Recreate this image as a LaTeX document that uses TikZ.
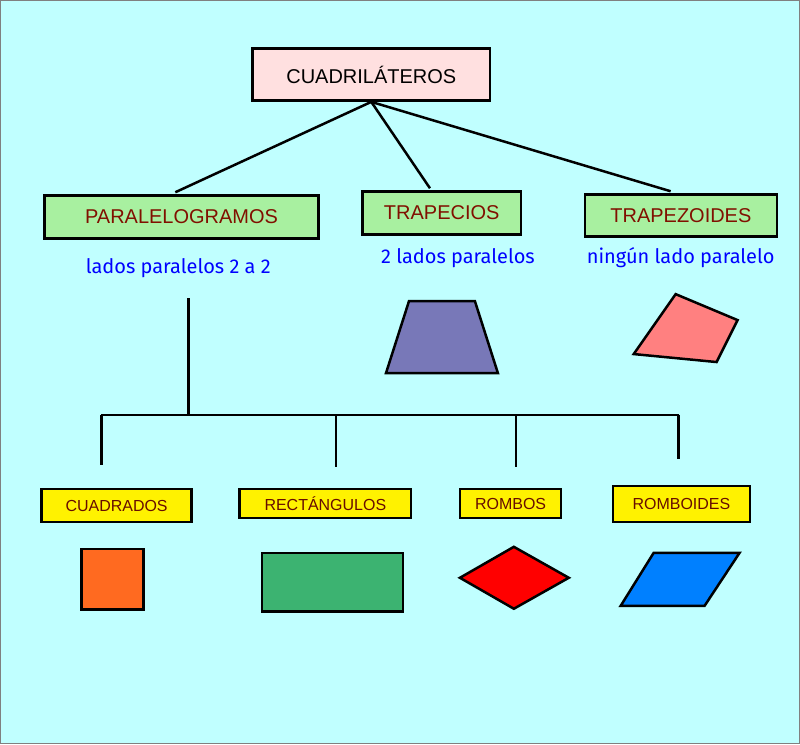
\documentclass[tikz,border=0pt]{standalone}
\usepackage{fontspec}
\setmainfont{Liberation Sans}
\newfontfamily\bluefont{Fira Sans}
\definecolor{fondo}{HTML}{C0FFFF}
\definecolor{rosa}{HTML}{FFE0E0}
\definecolor{verde}{HTML}{A8F0A0}
\definecolor{granate}{HTML}{801000}
\begin{document}
\begin{tikzpicture}[x=1pt,y=-1pt,line width=2.5pt,
  caja/.style={draw,line width=2.5pt,inner sep=0pt,anchor=north west,font=\fontsize{20}{22}\selectfont},
  tipo/.style={caja,fill=verde,text=granate},
  clase/.style={caja,fill=yellow,text=granate!80!black,font=\fontsize{16}{18}\selectfont},
  nota/.style={text=blue,font=\bluefont\fontsize{20}{22}\selectfont}]
	\fill[fondo,draw=gray,line width=1pt] (0,0) rectangle (800,744);
	\useasboundingbox (0,0) rectangle (800,744);
	% titulo y tipos
	\node[caja,fill=rosa,minimum width=238pt,minimum height=52pt] (cuad) at (251,47) {CUADRILÁTEROS};
	\node[tipo,minimum width=274pt,minimum height=43pt] (para) at (43,194) {PARALELOGRAMOS};
	\node[tipo,minimum width=159pt,minimum height=43pt] (trap) at (361,190) {TRAPECIOS};
	\node[tipo,minimum width=192pt,minimum height=42pt] (tzoi) at (584,193) {TRAPEZOIDES};
	\draw (cuad.south) -- (175,192);
	\draw (cuad.south) -- (430,188);
	\draw (cuad.south) -- (671,191);
	\node[nota] (npara) at (178,268) {lados paralelos 2 a 2};
	\node[nota] (ntrap) at (458,258) {2 lados paralelos};
	\node[nota] (ntzoi) at (681,257) {ningún lado paralelo};
	% figuras
	\draw[fill={rgb,255:red,120;green,120;blue,184}] (386,373) -- (409,301) -- (475,301) -- (498,373) -- cycle;
	\draw[fill={rgb,255:red,255;green,128;blue,128}] (634,354) -- (676,294) -- (738,320) -- (717,362) -- cycle;
	% ramas
	\draw (188,298) -- (188,415);
	\draw (101,415) -- (679,415);
	\foreach \x/\y in {101/465,336/467,516/467,679/459}
		\draw (\x,415) -- (\x,\y);
	\node[clase,minimum width=150pt,minimum height=33pt] (cdos) at (40,488) {CUADRADOS};
	\node[clase,minimum width=172pt,minimum height=29pt] (rect) at (238,488) {RECTÁNGULOS};
	\node[clase,minimum width=101pt,minimum height=29pt] (romb) at (459,488) {ROMBOS};
	\node[clase,minimum width=137pt,minimum height=36pt] (rboi) at (612,485) {ROMBOIDES};
	\draw[fill={rgb,255:red,255;green,106;blue,32}] (81,549) rectangle (143,610);
	\draw[fill={rgb,255:red,60;green,179;blue,113}] (262,553) rectangle (403,612);
	\draw[fill=red] (460,578) -- (514,547) -- (569,578) -- (514,609) -- cycle;
	\draw[fill={rgb,255:red,0;green,128;blue,255}] (621,606) -- (654,553) -- (740,553) -- (705,606) -- cycle;
\end{tikzpicture}
\end{document}
